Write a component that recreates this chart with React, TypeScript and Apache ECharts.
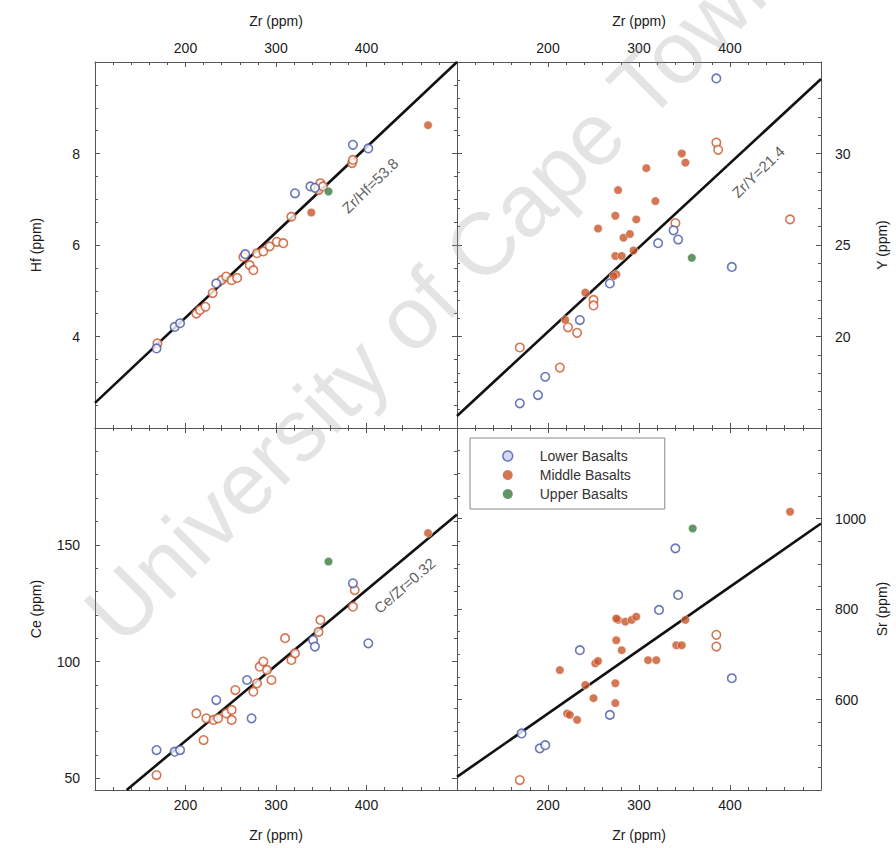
import React, { useEffect, useRef } from "react";
import * as echarts from "echarts";

// ---------- data (Zr ppm, element ppm) ----------
const hfLower = [[168, 3.74], [188, 4.21], [194, 4.29], [234, 5.16], [266, 5.8], [321, 7.13], [338, 7.28], [343, 7.25], [385, 8.19], [402, 8.11]];
const hfMiddleOpen = [[169, 3.85], [212, 4.5], [216, 4.58], [222, 4.65], [230, 4.95], [240, 5.23], [245, 5.31], [251, 5.23], [257, 5.28], [264, 5.74], [271, 5.56], [275, 5.45], [279, 5.82], [286, 5.86], [293, 5.97], [301, 6.07], [308, 6.04], [317, 6.62], [347, 7.2], [349, 7.35], [352, 7.28], [384, 7.79], [385, 7.86]];
const hfMiddleFilled = [[339, 6.71], [468, 8.62]];
const hfUpper = [[358, 7.17]];

const yLower = [[169, 16.35], [189, 16.8], [197, 17.8], [235, 20.9], [268, 22.9], [321, 25.1], [338, 25.8], [343, 25.3], [385, 34.1], [402, 23.8]];
const yMiddleFilled = [[347, 30.0], [351, 29.5], [308, 29.2], [277, 28.0], [318, 27.4], [274, 26.6], [297, 26.4], [255, 25.9], [283, 25.4], [290, 25.6], [294, 24.7], [274, 24.4], [281, 24.4], [275, 23.4], [272, 23.3], [241, 22.4], [219, 20.9]];
const yMiddleOpen = [[385, 30.6], [387, 30.2], [340, 26.2], [466, 26.4], [250, 22.0], [250, 21.7], [222, 20.5], [232, 20.2], [169, 19.4], [213, 18.3]];
const yUpper = [[358, 24.3]];

const ceLower = [[168, 62.1], [188, 61.4], [194, 62.1], [234, 83.5], [268, 92.1], [273, 75.7], [341, 109.2], [343, 106.4], [385, 133.5], [402, 107.8]];
const ceMiddleOpen = [[168, 51.4], [220, 66.4], [212, 77.8], [223, 75.7], [231, 75.0], [236, 75.7], [245, 77.8], [251, 79.3], [251, 75.0], [255, 87.8], [275, 87.1], [279, 90.7], [282, 97.8], [286, 100], [290, 96.4], [295, 92.1], [317, 100.7], [321, 103.5], [310, 110], [347, 112.7], [349, 117.8], [385, 123.5], [387, 130.6]];
const ceMiddleFilled = [[468, 155]];
const ceUpper = [[358, 142.8]];

const srLower = [[171, 525], [191, 492], [197, 499], [235, 709], [268, 566], [322, 798], [340, 934], [343, 831], [402, 647]];
const srMiddleFilled = [[277, 776], [285, 772], [292, 776], [297, 783], [275, 779], [275, 731], [281, 709], [341, 720], [347, 720], [310, 687], [319, 687], [252, 680], [255, 685], [213, 665], [241, 632], [274, 636], [250, 603], [274, 592], [221, 569], [224, 566], [232, 555], [351, 776], [466, 1015]];
const srMiddleOpen = [[385, 743], [385, 717], [169, 422]];
const srUpper = [[359, 978]];

// reference lines (end points in data units)
const hfLine = [[100, 2.55], [500, 10.0]];
const yLine = [[100, 15.66], [500, 34.07]];
const ceLine = [[135, 45], [500, 163]];
const srLine = [[100, 429], [500, 989]];

// line annotations: [Zr, value], text
const hfNote = [[404, 7.3]];
const yNote = [[431, 29.0]];
const ceNote = [[442, 132.5]];
const noteTexts = ["Zr/Hf=53.8", "Zr/Y=21.4", "Ce/Zr=0.32"];

const seriesNames = ["Lower Basalts", "Middle Basalts", "Upper Basalts"];
const zrName = "Zr (ppm)";
const yNames = ["Hf (ppm)", "Y (ppm)", "Ce (ppm)", "Sr (ppm)"];
const watermark = "University of Cape Town";

// ---------- styles ----------
const FONT = '"Liberation Sans", Arial, Helvetica, sans-serif';
const BLUE = "#4556a8";
const ORANGE = "#c9552b";
const GREEN = "#3c7a40";
const AXIS = "#555";

export default function App() {
  const ref = useRef<HTMLDivElement>(null);

  useEffect(() => {
    if (!ref.current) return;
    const chart = echarts.init(ref.current, undefined, { renderer: "svg" });

    const grids = [
      { left: 95, top: 62, width: 362, height: 366 },
      { left: 457, top: 62, width: 364, height: 366 },
      { left: 95, top: 428, width: 362, height: 362 },
      { left: 457, top: 428, width: 364, height: 362 },
    ];

    const labelStyle = { color: "#1a1a1a", fontSize: 14, fontFamily: FONT, formatter: (v: number) => String(v) };
    const nameStyle = { color: "#1a1a1a", fontSize: 14, fontFamily: FONT };

    const xAxes: any[] = [];
    const yAxes: any[] = [];
    const yCfg = [
      { min: 2, max: 10, interval: 2, minor: 4 },
      { min: 15, max: 35, interval: 5, minor: 5 },
      { min: 45, max: 200, splitNumber: 3, minor: 5 },
      { min: 400, max: 1200, interval: 200, minor: 4 },
    ];

    for (let p = 0; p < 4; p++) {
      const isTop = p < 2;
      const isLeft = p % 2 === 0;
      const base = {
        type: "value",
        gridIndex: p,
        axisLine: { show: true, onZero: false, lineStyle: { color: AXIS, width: 1 } },
        axisTick: { show: true, inside: true, length: 5, lineStyle: { color: AXIS } },
        minorTick: { show: true, length: 3, lineStyle: { color: AXIS } },
        splitLine: { show: false },
      };
      const xBase = { ...base, min: 100, max: 500, interval: 100, minorTick: { ...base.minorTick, splitNumber: 5 } };
      xAxes.push({
        ...xBase,
        position: isTop ? "top" : "bottom",
        name: zrName,
        nameLocation: "middle",
        nameGap: isTop ? 34 : 38,
        nameTextStyle: nameStyle,
        axisLabel: { ...labelStyle, margin: isTop ? 7 : 8, showMinLabel: false, showMaxLabel: false },
      });
      xAxes.push({
        ...xBase,
        position: isTop ? "bottom" : "top",
        axisLabel: { show: false },
      });
      const c = yCfg[p];
      const yBase: any = { ...base, min: c.min, max: c.max, minorTick: { ...base.minorTick, splitNumber: c.minor } };
      if (c.interval) yBase.interval = c.interval;
      if (c.splitNumber) yBase.splitNumber = c.splitNumber;
      yAxes.push({
        ...yBase,
        position: isLeft ? "left" : "right",
        name: yNames[p],
        nameLocation: "middle",
        nameRotate: 90,
        nameGap: isLeft ? 52 : 54,
        nameTextStyle: nameStyle,
        axisLabel: { ...labelStyle, margin: isLeft ? 15 : 14, showMinLabel: false, showMaxLabel: false },
      });
      yAxes.push({
        ...yBase,
        position: isLeft ? "right" : "left",
        axisLabel: { show: false },
      });
    }

    const open = (color: string) => ({ color: "#ffffff", borderColor: color, borderWidth: 1.6 });
    const filled = (color: string) => ({ color, borderColor: "#ffffff", borderWidth: 0.6 });

    const panels = [
      { lower: hfLower, midOpen: hfMiddleOpen, midFilled: hfMiddleFilled, upper: hfUpper, line: hfLine, note: hfNote, text: noteTexts[0], rot: 44 },
      { lower: yLower, midOpen: yMiddleOpen, midFilled: yMiddleFilled, upper: yUpper, line: yLine, note: yNote, text: noteTexts[1], rot: 44 },
      { lower: ceLower, midOpen: ceMiddleOpen, midFilled: ceMiddleFilled, upper: ceUpper, line: ceLine, note: ceNote, text: noteTexts[2], rot: 41 },
      { lower: srLower, midOpen: srMiddleOpen, midFilled: srMiddleFilled, upper: srUpper, line: srLine, note: null, text: "", rot: 0 },
    ];

    const series: any[] = [];
    panels.forEach((pn, p) => {
      const axes = { xAxisIndex: 2 * p, yAxisIndex: 2 * p };
      series.push({
        type: "line", ...axes, data: pn.line, symbol: "none", silent: true,
        lineStyle: { color: "#111", width: 2.6 }, z: 1,
      });
      const sc = (name: string, data: number[][], itemStyle: any, z: number) => ({
        type: "scatter", name, ...axes, data, symbol: "circle", symbolSize: 8.5, itemStyle, z,
      });
      series.push(sc(seriesNames[1], pn.midOpen, open(ORANGE), 3));
      series.push(sc(seriesNames[0], pn.lower, open(BLUE), 3));
      series.push(sc(seriesNames[1], pn.midFilled, filled(ORANGE), 4));
      series.push(sc(seriesNames[2], pn.upper, filled(GREEN), 4));
      if (pn.note) {
        series.push({
          type: "scatter", ...axes, data: pn.note, symbol: "circle", symbolSize: 1, silent: true,
          itemStyle: { color: "rgba(0,0,0,0)" },
          label: {
            show: true, position: "inside", formatter: pn.text, rotate: pn.rot,
            color: "#333", fontSize: 15, fontFamily: FONT,
          },
          z: 5,
        });
      }
    });

    chart.setOption({
      animation: false,
      backgroundColor: "#ffffff",
      grid: grids,
      xAxis: xAxes,
      yAxis: yAxes,
      legend: {
        orient: "vertical",
        left: 470,
        top: 438,
        padding: [11, 34, 8, 32],
        itemGap: 5,
        itemWidth: 10,
        itemHeight: 10,
        borderColor: "#888",
        borderWidth: 1,
        backgroundColor: "#ffffff",
        textStyle: { color: "#333", fontSize: 14, fontFamily: FONT, padding: [0, 0, 0, 22] },
        data: [
          { name: seriesNames[0], icon: "circle", itemStyle: { color: "#c9cff0", borderColor: BLUE, borderWidth: 1.5 } },
          { name: seriesNames[1], icon: "circle", itemStyle: { color: ORANGE, borderWidth: 0 } },
          { name: seriesNames[2], icon: "circle", itemStyle: { color: GREEN, borderWidth: 0 } },
        ],
      },
      graphic: [
        {
          type: "text",
          x: 435,
          y: 292,
          rotation: (45 * Math.PI) / 180,
          silent: true,
          z: 100,
          style: {
            text: watermark,
            font: `88px ${FONT}`,
            fill: "rgba(150,150,150,0.26)",
            align: "center",
            verticalAlign: "middle",
          },
        },
      ],
      series,
    });

    return () => chart.dispose();
  }, []);

  return (
    <div
      ref={ref}
      style={{ position: "absolute", left: 0, top: 0, width: 896, height: 848, background: "#fff" }}
    />
  );
}
